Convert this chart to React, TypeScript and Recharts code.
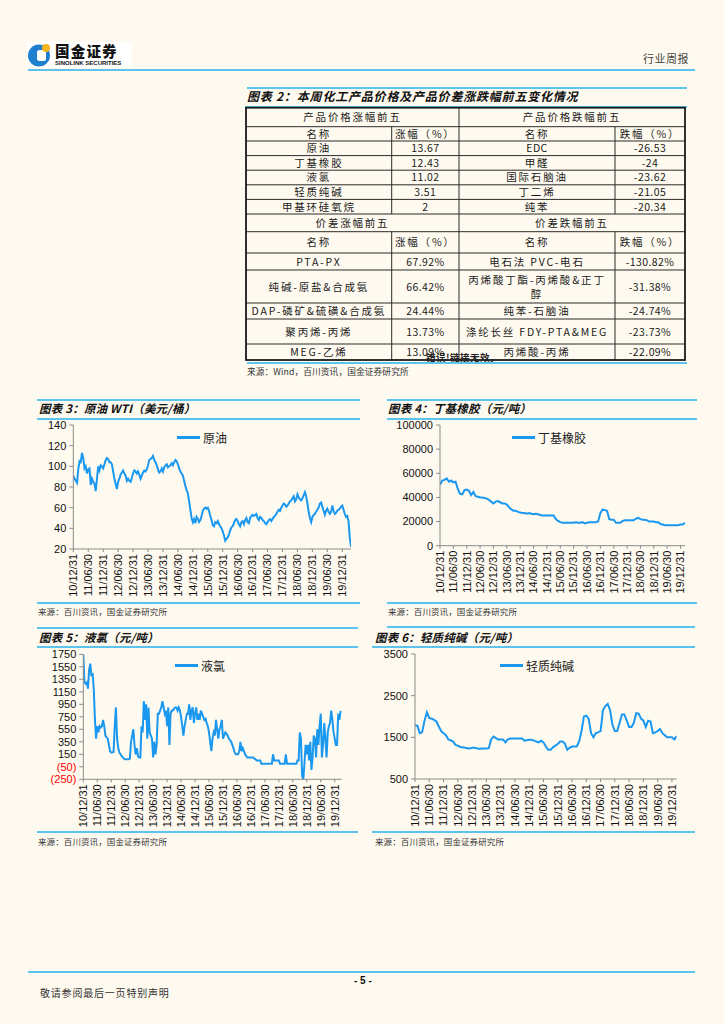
import React from "react";
import { LineChart, Line, XAxis, YAxis, Legend } from "recharts";

const BLUE = "#1a98f0";
const RULE = "#5cc3ee";
const CJK = '"Noto Sans CJK SC", "Noto Sans", sans-serif';
const ARIAL = '"Liberation Sans", Arial, sans-serif';

// x axis labels, one every 6 months starting 2010-12-31
const dateLabels = [
  "10/12/31", "11/06/30", "11/12/31", "12/06/30", "12/12/31", "13/06/30", "13/12/31",
  "14/06/30", "14/12/31", "15/06/30", "15/12/31", "16/06/30", "16/12/31", "17/06/30",
  "17/12/31", "18/06/30", "18/12/31", "19/06/30", "19/12/31",
];
const dateTicks = dateLabels.map((_, i) => i * 6);

// WTI, half-month steps
const wtiPrice = [
  91, 88, 86, 84, 97, 105, 104, 113, 108, 98, 100, 93, 97, 98, 82, 88, 85, 83, 76, 88, 100, 96, 101, 100,
  98, 102, 106, 108, 107, 104, 104, 102, 95, 88, 83, 78, 85, 88, 92, 94, 96, 93, 91, 86, 88, 86, 85, 89,
  93, 96, 95, 93, 95, 92, 88, 91, 94, 96, 95, 97, 101, 106, 107, 108, 110, 106, 104, 101, 97, 94, 95, 98,
  95, 99, 101, 102, 99, 100, 101, 103, 101, 104, 106, 105, 102, 98, 95, 93, 91, 86, 81, 77, 74, 66, 58, 50,
  46, 49, 45, 51, 49, 46, 48, 52, 57, 59, 60, 59, 60, 57, 52, 48, 43, 42, 46, 45, 47, 44, 42, 40,
  37, 33, 28, 30, 31, 34, 38, 41, 42, 45, 48, 49, 47, 44, 42, 46, 47, 44, 48, 50, 46, 45, 50, 52,
  53, 52, 53, 54, 50, 48, 51, 50, 48, 47, 45, 44, 46, 48, 49, 47, 49, 51, 52, 54, 56, 58, 57, 60,
  62, 64, 63, 61, 62, 64, 66, 67, 69, 71, 66, 68, 73, 70, 68, 67, 69, 72, 75, 71, 64, 56, 50, 46,
  51, 53, 54, 56, 58, 60, 64, 65, 61, 57, 53, 57, 59, 56, 54, 56, 62, 57, 54, 55, 57, 58, 59, 61,
  62, 58, 54, 51, 52, 47, 31, 22,
];

// 丁基橡胶, monthly
const rubberPrice = [
  50500, 54000, 54500, 55800, 53000, 54000, 52500, 53000, 47000, 43000, 42500, 46000,
  46500, 45500, 42000, 44500, 41000, 40500, 40000, 40000, 39500, 39000, 38000, 36500,
  35000, 36500, 37000, 36000, 35000, 35000, 34000, 32000, 30000, 29000, 29000, 28000,
  27500, 27000, 27000, 26500, 27000, 26500, 26000, 26500, 26000, 25500, 25000, 25000,
  25000, 25000, 25000, 25000, 22000, 20500, 19500, 19000, 19000, 19000, 19000, 19000,
  19000, 19500, 19000, 19000, 19500, 18500, 19000, 19500, 19500, 19500, 19500, 20000,
  27000, 30000, 29500, 29000, 22000, 21500, 21500, 19000, 19000, 19000, 20500, 21000,
  21000, 21000, 21000, 21000, 22500, 23000, 22000, 21500, 21500, 21000, 20000, 20000,
  20000, 19500, 19500, 18000, 17500, 17000, 17000, 17000, 17000, 17000, 17000, 17000,
  17500, 17500, 19000,
];

// 液氯, half-month steps
const chlorinePrice = [
  1750, 1300, 1280, 1300, 1200, 1500, 1600, 1400, 1450, 1200, 700, 400, 600, 500, 600, 580, 600, 700, 600, 450, 420, 400, 300, 200,
  180, 180, 190, 600, 900, 400, 250, 180, 150, 120, 100, 80, 70, 70, 70, 70, 80, 350, 450, 550, 300, 150, 250, 120,
  100, 100, 600, 500, 1000, 700, 950, 400, 900, 500, 450, 400, 100, 350, 150, 300, 800, 800, 850, 900, 1000, 900, 800, 850,
  600, 900, 300, 800, 850, 850, 880, 900, 900, 850, 900, 850, 750, 600, 450, 600, 700, 800, 800, 950, 700, 850, 900, 650,
  800, 900, 700, 800, 700, 850, 800, 750, 700, 720, 650, 600, 500, 350, 200, 400, 500, 450, 700, 550, 400, 550, 600, 700,
  400, 450, 500, 480, 450, 400, 380, 350, 300, 250, 180, 150, 150, 150, 200, 350, 200, 250, 200, 150, 120, 100, 100, 100,
  100, 100, 100, 80, 70, 50, 50, 50, 50, 0, 0, 0, 0, 0, 0, 0, 0, 0, 0, 150, 50, 50, 50, 50,
  50, 0, 0, 0, 0, 0, 150, 0, 0, 0, 0, 0, 0, 0, 0, 0, 50, 50, 500, 400, -200, -250, 0, 300,
  150, 300, 50, 350, -100, 100, 450, 400, 100, 550, 300, 600, 800, 100, 300, 650, 400, 100, 500, 600, 650, 850, 700, 500,
  400, 300, 300, 800, 700, 830, 830,
];

// 轻质纯碱, monthly
const sodaPrice = [
  1790, 1780, 1600, 1620, 1900, 2100, 1960, 1950, 1920, 1880, 1760, 1650,
  1600, 1550, 1450, 1430, 1400, 1320, 1300, 1270, 1260, 1250, 1240, 1230,
  1250, 1250, 1240, 1220, 1230, 1230, 1230, 1240, 1450, 1520, 1480, 1450,
  1450, 1450, 1380, 1450, 1470, 1470, 1470, 1470, 1470, 1470, 1420, 1430,
  1440, 1440, 1420, 1400, 1380, 1420, 1380, 1280, 1200, 1200, 1260, 1300,
  1340, 1400, 1400, 1350, 1200, 1250, 1280, 1280, 1280, 1400, 1650, 2000,
  2020, 1950, 1600, 1500, 1600, 1620, 1650, 2150, 2250, 2300, 2150, 1800,
  1650, 1650, 1850, 2050, 2050, 1900, 1750, 1750, 1850, 2080, 2070, 1950,
  1900, 1750, 1900, 1880, 1600, 1620, 1650, 1700, 1600, 1550, 1500, 1500,
  1500, 1450, 1530,
];

// table 2
const priceUpNames = ["原油", "丁基橡胶", "液氯", "轻质纯碱", "甲基环硅氧烷"];
const priceUpPct = ["13.67", "12.43", "11.02", "3.51", "2"];
const priceDownNames = ["EDC", "甲醛", "国际石脑油", "丁二烯", "纯苯"];
const priceDownPct = ["-26.53", "-24", "-23.62", "-21.05", "-20.34"];
const spreadUpNames = ["PTA-PX", "纯碱-原盐&合成氨", "DAP-磷矿&硫磺&合成氨", "聚丙烯-丙烯", "MEG-乙烯"];
const spreadUpPct = ["67.92%", "66.42%", "24.44%", "13.73%", "13.09%"];
const spreadDownNames = ["电石法 PVC-电石", "丙烯酸丁酯-丙烯酸&正丁\n醇", "纯苯-石脑油", "涤纶长丝 FDY-PTA&MEG", "丙烯酸-丙烯"];
const spreadDownPct = ["-130.82%", "-31.38%", "-24.74%", "-23.73%", "-22.09%"];

const colX = [246, 391.7, 459, 615, 685];
const rowH = [19, 14.3, 14.6, 14.6, 14.6, 14.6, 14.6, 17.7, 21.3, 17, 33, 16, 25, 16];
const tableTop = 107.7;

function Txt({ x, y, size, children, style }: any) {
  return (
    <div
      style={{
        position: "absolute",
        left: x,
        top: y - size * 0.65,
        fontSize: size,
        lineHeight: `${size * 1.3}px`,
        whiteSpace: "nowrap",
        fontFamily: CJK,
        color: "#222",
        ...style,
      }}
    >
      {children}
    </div>
  );
}

function Rule({ x1, x2, y, h = 2 }: any) {
  return <div style={{ position: "absolute", left: x1, top: y - h / 2, width: x2 - x1, height: h, background: RULE }} />;
}

function DateTick(p: any) {
  const { x, y, payload } = p;
  const yy = y - 2;
  return (
    <text x={x} y={yy} transform={`rotate(-90 ${x} ${yy})`} textAnchor="end" dy="0.35em" fontSize={11} fontFamily={ARIAL} fill="#111">
      {dateLabels[Math.round(payload.value / 6)]}
    </text>
  );
}

function ValueTick(p: any) {
  const { x, y, payload } = p;
  const v = payload.value;
  const neg = v < 0;
  return (
    <text x={x} y={y} textAnchor="end" dy="0.35em" fontSize={11} fontFamily={ARIAL} fill={neg ? "#ff0000" : "#111"}>
      {neg ? `(${-v})` : `${v}`}
    </text>
  );
}

function PriceChart({ box, yWidth, rightGap, topGap, xHeight, series, step, yDomain, yTicks, name, legendAt }: any) {
  const data = series.map((v: number, i: number) => ({ t: i * step, v }));
  const maxT = (series.length - 1) * step;
  return (
    <div style={{ position: "absolute", left: box[0], top: box[1] }}>
      <LineChart width={box[2]} height={box[3]} data={data} margin={{ top: topGap, right: rightGap, bottom: 0, left: 0 }}>
        <XAxis
          type="number"
          dataKey="t"
          domain={[0, maxT]}
          ticks={dateTicks}
          interval={0}
          height={xHeight}
          tick={(p: any) => <DateTick {...p} />}
          tickSize={3}
          tickMargin={4}
          axisLine={{ stroke: "#8a8a8a" }}
          tickLine={{ stroke: "#8a8a8a" }}
          allowDataOverflow
        />
        <YAxis
          type="number"
          domain={yDomain}
          ticks={yTicks}
          interval={0}
          width={yWidth}
          tick={(p: any) => <ValueTick {...p} />}
          tickSize={4}
          tickMargin={3}
          axisLine={{ stroke: "#8a8a8a" }}
          tickLine={{ stroke: "#8a8a8a" }}
          allowDataOverflow
        />
        <Legend
          layout="horizontal"
          verticalAlign="middle"
          align="center"
          wrapperStyle={{ left: legendAt[0], top: legendAt[1] - 9, width: "auto", height: 18 }}
          content={() => (
            <div style={{ display: "flex", alignItems: "center", height: 18 }}>
              <span style={{ display: "inline-block", width: 23, height: 3, background: BLUE, marginRight: 3 }} />
              <span style={{ fontSize: 12, fontFamily: CJK, color: "#222" }}>{name}</span>
            </div>
          )}
        />
        <Line type="linear" dataKey="v" name={name} stroke={BLUE} strokeWidth={2} dot={false} isAnimationActive={false} />
      </LineChart>
    </div>
  );
}

function Table() {
  const tops: number[] = [];
  let acc = tableTop;
  rowH.forEach((h) => {
    tops.push(acc);
    acc += h;
  });
  const bottom = acc;
  const cells: any[] = [];
  const cell = (key: string, x1: number, x2: number, r: number, text: string, num?: boolean) => {
    cells.push(
      <div
        key={key}
        style={{
          position: "absolute",
          left: x1,
          top: tops[r],
          width: x2 - x1,
          height: rowH[r],
          display: "flex",
          alignItems: "center",
          justifyContent: "center",
          textAlign: "center",
          whiteSpace: "pre-line",
          fontFamily: CJK,
          fontSize: 10.5,
          lineHeight: "14px",
          letterSpacing: num ? 0.4 : 1.8,
          color: "#1a1a1a",
        }}
      >
        {text}
      </div>
    );
  };
  cell("h1", colX[0], colX[2], 0, "产品价格涨幅前五");
  cell("h2", colX[2], colX[4], 0, "产品价格跌幅前五");
  cell("h3", colX[0], colX[2], 7, "价差涨幅前五");
  cell("h4", colX[2], colX[4], 7, "价差跌幅前五");
  [1, 8].forEach((r) => {
    cell(`n1-${r}`, colX[0], colX[1], r, "名称");
    cell(`n2-${r}`, colX[1], colX[2], r, "涨幅（%）");
    cell(`n3-${r}`, colX[2], colX[3], r, "名称");
    cell(`n4-${r}`, colX[3], colX[4], r, "跌幅（%）");
  });
  for (let i = 0; i < 5; i++) {
    cell(`a${i}`, colX[0], colX[1], 2 + i, priceUpNames[i]);
    cell(`b${i}`, colX[1], colX[2], 2 + i, priceUpPct[i], true);
    cell(`c${i}`, colX[2], colX[3], 2 + i, priceDownNames[i], /^[A-Z]+$/.test(priceDownNames[i]));
    cell(`d${i}`, colX[3], colX[4], 2 + i, priceDownPct[i], true);
    cell(`e${i}`, colX[0], colX[1], 9 + i, spreadUpNames[i]);
    cell(`f${i}`, colX[1], colX[2], 9 + i, spreadUpPct[i], true);
    cell(`g${i}`, colX[2], colX[3], 9 + i, spreadDownNames[i]);
    cell(`h${i}`, colX[3], colX[4], 9 + i, spreadDownPct[i], true);
  }
  const lines: any[] = [];
  tops.slice(1).forEach((y, i) => lines.push(<line key={`r${i}`} x1={colX[0]} x2={colX[4]} y1={y} y2={y} />));
  lines.push(<line key="vm" x1={colX[2]} x2={colX[2]} y1={tableTop} y2={bottom} />);
  [colX[1], colX[3]].forEach((x, i) => {
    lines.push(<line key={`va${i}`} x1={x} x2={x} y1={tops[1]} y2={tops[7]} />);
    lines.push(<line key={`vb${i}`} x1={x} x2={x} y1={tops[8]} y2={bottom} />);
  });
  return (
    <>
      <svg width={724} height={1024} style={{ position: "absolute", left: 0, top: 0, pointerEvents: "none" }}>
        <g stroke="#2a2a2a" strokeWidth={1}>{lines}</g>
        <rect x={colX[0]} y={tableTop} width={colX[4] - colX[0]} height={bottom - tableTop} fill="none" stroke="#1a1a1a" strokeWidth={1.8} />
      </svg>
      {cells}
    </>
  );
}

function Logo() {
  return (
    <div style={{ position: "absolute", left: 27, top: 42, width: 105, height: 25, background: "#fff" }}>
      <svg width={26} height={25} style={{ position: "absolute", left: 1, top: 0 }}>
        <circle cx={11} cy={13.5} r={11} fill="#1f7fcf" />
        <rect x={9} y={8} width={9} height={11} rx={2.5} fill="#fff" />
        <circle cx={18} cy={6} r={4} fill="#f5b51c" />
      </svg>
      <div style={{ position: "absolute", left: 28, top: 1, fontFamily: CJK, fontWeight: 900, fontSize: 14.5, lineHeight: "15px", color: "#111", letterSpacing: 1.2 }}>
        国金证券
      </div>
      <div style={{ position: "absolute", left: 28, top: 18, fontFamily: ARIAL, fontWeight: 700, fontSize: 6, lineHeight: "6.5px", color: "#111", whiteSpace: "nowrap" }}>
        SINOLINK SECURITIES
      </div>
    </div>
  );
}

export default function App() {
  const titleStyle = { fontWeight: 700, fontStyle: "italic", letterSpacing: 0.8, color: "#111" };
  const chartTitle = { fontWeight: 700, fontStyle: "italic", letterSpacing: 0.2, color: "#111" };
  const srcStyle = { color: "#333", letterSpacing: 0.1 };
  return (
    <div style={{ position: "absolute", left: 0, top: 0, width: 724, height: 1024, background: "#fffaf0", overflow: "hidden" }}>
      <Logo />
      <Txt x={643} y={58} size={11} style={{ color: "#444", letterSpacing: 0.5 }}>行业周报</Txt>
      <Rule x1={28} x2={695} y={70} h={2.5} />

      <Rule x1={247} x2={687} y={88} h={1.5} />
      <Txt x={247} y={96} size={12} style={titleStyle}>图表 2：本周化工产品价格及产品价差涨跌幅前五变化情况</Txt>
      <Rule x1={245} x2={687} y={106.5} h={2} />
      <Table />
      <Txt x={426} y={357.5} size={9.5} style={{ fontWeight: 700, color: "#222", letterSpacing: 0.5 }}>错误!链接无效。</Txt>
      <Rule x1={247} x2={687} y={363} h={1.5} />
      <Txt x={247} y={372} size={8.7} style={srcStyle}>来源：Wind，百川资讯，国金证券研究所</Txt>

      <Rule x1={37} x2={360} y={400} h={1.5} />
      <Txt x={39} y={408} size={11.5} style={chartTitle}>图表 3：原油 WTI（美元/桶）</Txt>
      <Rule x1={37} x2={360} y={419} h={1.5} />
      <PriceChart
        box={[38, 420, 320, 180]}
        yWidth={35.3}
        rightGap={7}
        topGap={5}
        xHeight={51}
        series={wtiPrice}
        step={0.5}
        yDomain={[20, 140]}
        yTicks={[20, 40, 60, 80, 100, 120, 140]}
        name="原油"
        legendAt={[139, 17]}
      />
      <Rule x1={37} x2={360} y={603} h={1.5} />
      <Txt x={38} y={612} size={8.5} style={srcStyle}>来源：百川资讯，国金证券研究所</Txt>

      <Rule x1={387} x2={697} y={400} h={1.5} />
      <Txt x={388} y={408} size={11.5} style={chartTitle}>图表 4：丁基橡胶（元/吨）</Txt>
      <Rule x1={387} x2={697} y={419} h={1.5} />
      <PriceChart
        box={[387, 420, 305, 180]}
        yWidth={53}
        rightGap={7}
        topGap={5}
        xHeight={54.3}
        series={rubberPrice}
        step={1}
        yDomain={[0, 100000]}
        yTicks={[0, 20000, 40000, 60000, 80000, 100000]}
        name="丁基橡胶"
        legendAt={[125, 17]}
      />
      <Rule x1={387} x2={697} y={603} h={1.5} />
      <Txt x={388} y={612} size={8.5} style={srcStyle}>来源：百川资讯，国金证券研究所</Txt>

      <Rule x1={37} x2={358} y={628} h={1.5} />
      <Txt x={39} y={637} size={11.5} style={chartTitle}>图表 5：液氯（元/吨）</Txt>
      <Rule x1={37} x2={358} y={647} h={1.5} />
      <PriceChart
        box={[38, 649, 310, 180]}
        yWidth={45.3}
        rightGap={6.3}
        topGap={5.3}
        xHeight={49.7}
        series={chlorinePrice}
        step={0.5}
        yDomain={[-250, 1750]}
        yTicks={[-250, -50, 150, 350, 550, 750, 950, 1150, 1350, 1550, 1750]}
        name="液氯"
        legendAt={[137, 16]}
      />
      <Rule x1={37} x2={358} y={832} h={1.5} />
      <Txt x={38} y={842} size={8.5} style={srcStyle}>来源：百川资讯，国金证券研究所</Txt>

      <Rule x1={387} x2={695} y={627} h={1.5} />
      <Txt x={375} y={637} size={11.5} style={chartTitle}>图表 6：轻质纯碱（元/吨）</Txt>
      <Rule x1={372} x2={695} y={647} h={1.5} />
      <PriceChart
        box={[375, 649, 310, 180]}
        yWidth={40}
        rightGap={8.3}
        topGap={5}
        xHeight={50}
        series={sodaPrice}
        step={1}
        yDomain={[500, 3500]}
        yTicks={[500, 1500, 2500, 3500]}
        name="轻质纯碱"
        legendAt={[125, 16]}
      />
      <Rule x1={372} x2={695} y={832} h={1.5} />
      <Txt x={375} y={842} size={8.5} style={srcStyle}>来源：百川资讯，国金证券研究所</Txt>

      <Rule x1={28} x2={695} y={972} h={2.5} />
      <Txt x={354} y={980} size={10} style={{ fontFamily: ARIAL, fontWeight: 700, color: "#111" }}>- 5 -</Txt>
      <Txt x={40} y={992} size={10} style={{ color: "#333", letterSpacing: 0.8 }}>敬请参阅最后一页特别声明</Txt>
    </div>
  );
}
